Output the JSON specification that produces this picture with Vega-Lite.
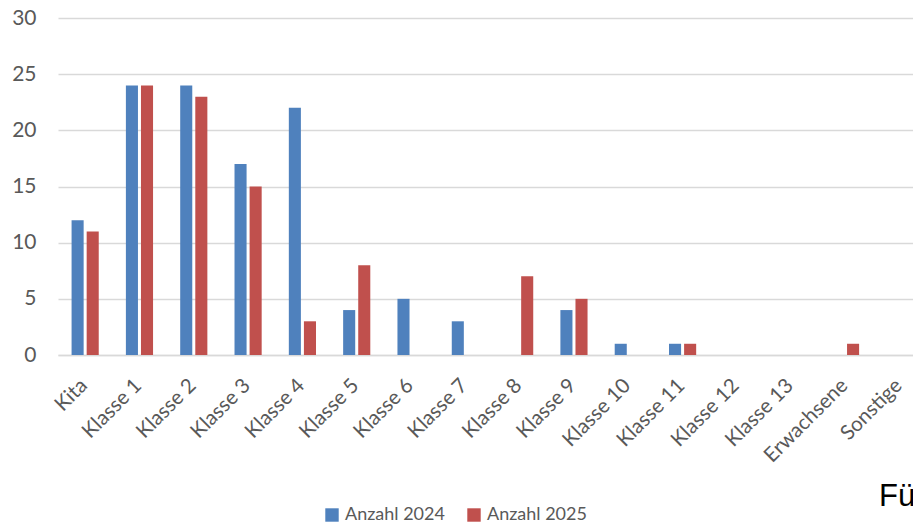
{
  "$schema": "https://vega.github.io/schema/vega-lite/v6.json",
  "width": 869,
  "height": 337,
  "autosize": {"type": "none"},
  "padding": {"left": 58, "top": 18, "right": 0, "bottom": 170},
  "background": "white",
  "title": {
    "text": "Fü",
    "orient": "bottom",
    "anchor": "start",
    "frame": "group",
    "dx": 821,
    "dy": -56,
    "offset": 14,
    "fontSize": 31,
    "font": "Liberation Sans",
    "fontWeight": "normal",
    "color": "#000000",
    "baseline": "top"
  },
  "config": {
    "view": {"stroke": null},
    "font": "Lato",
    "axis": {"labelFont": "Lato", "labelColor": "#595959"},
    "legend": {"labelFont": "Lato"}
  },
  "data": {
    "values": [
      {"Kategorie": "Kita", "Serie": "Anzahl 2024", "Wert": 12},
      {"Kategorie": "Kita", "Serie": "Anzahl 2025", "Wert": 11},
      {"Kategorie": "Klasse 1", "Serie": "Anzahl 2024", "Wert": 24},
      {"Kategorie": "Klasse 1", "Serie": "Anzahl 2025", "Wert": 24},
      {"Kategorie": "Klasse 2", "Serie": "Anzahl 2024", "Wert": 24},
      {"Kategorie": "Klasse 2", "Serie": "Anzahl 2025", "Wert": 23},
      {"Kategorie": "Klasse 3", "Serie": "Anzahl 2024", "Wert": 17},
      {"Kategorie": "Klasse 3", "Serie": "Anzahl 2025", "Wert": 15},
      {"Kategorie": "Klasse 4", "Serie": "Anzahl 2024", "Wert": 22},
      {"Kategorie": "Klasse 4", "Serie": "Anzahl 2025", "Wert": 3},
      {"Kategorie": "Klasse 5", "Serie": "Anzahl 2024", "Wert": 4},
      {"Kategorie": "Klasse 5", "Serie": "Anzahl 2025", "Wert": 8},
      {"Kategorie": "Klasse 6", "Serie": "Anzahl 2024", "Wert": 5},
      {"Kategorie": "Klasse 6", "Serie": "Anzahl 2025", "Wert": 0},
      {"Kategorie": "Klasse 7", "Serie": "Anzahl 2024", "Wert": 3},
      {"Kategorie": "Klasse 7", "Serie": "Anzahl 2025", "Wert": 0},
      {"Kategorie": "Klasse 8", "Serie": "Anzahl 2024", "Wert": 0},
      {"Kategorie": "Klasse 8", "Serie": "Anzahl 2025", "Wert": 7},
      {"Kategorie": "Klasse 9", "Serie": "Anzahl 2024", "Wert": 4},
      {"Kategorie": "Klasse 9", "Serie": "Anzahl 2025", "Wert": 5},
      {"Kategorie": "Klasse 10", "Serie": "Anzahl 2024", "Wert": 1},
      {"Kategorie": "Klasse 10", "Serie": "Anzahl 2025", "Wert": 0},
      {"Kategorie": "Klasse 11", "Serie": "Anzahl 2024", "Wert": 1},
      {"Kategorie": "Klasse 11", "Serie": "Anzahl 2025", "Wert": 1},
      {"Kategorie": "Klasse 12", "Serie": "Anzahl 2024", "Wert": 0},
      {"Kategorie": "Klasse 12", "Serie": "Anzahl 2025", "Wert": 0},
      {"Kategorie": "Klasse 13", "Serie": "Anzahl 2024", "Wert": 0},
      {"Kategorie": "Klasse 13", "Serie": "Anzahl 2025", "Wert": 0},
      {"Kategorie": "Erwachsene", "Serie": "Anzahl 2024", "Wert": 0},
      {"Kategorie": "Erwachsene", "Serie": "Anzahl 2025", "Wert": 1},
      {"Kategorie": "Sonstige", "Serie": "Anzahl 2024", "Wert": 0},
      {"Kategorie": "Sonstige", "Serie": "Anzahl 2025", "Wert": 0}
    ]
  },
  "mark": {"type": "bar"},
  "encoding": {
    "x": {
      "field": "Kategorie",
      "type": "nominal",
      "sort": null,
      "scale": {"paddingInner": 0.5, "paddingOuter": 0.25},
      "axis": {
        "title": null,
        "labelAngle": -45,
        "labelFontSize": 20.5,
        "labelColor": "#595959",
        "labelPadding": 20,
        "labelOffset": -8,
        "ticks": false,
        "domainColor": "#d9d9d9",
        "domainWidth": 1.5
      }
    },
    "xOffset": {
      "field": "Serie",
      "type": "nominal",
      "scale": {"paddingInner": 0.2}
    },
    "y": {
      "field": "Wert",
      "type": "quantitative",
      "scale": {"domain": [0, 30]},
      "axis": {
        "title": null,
        "values": [0, 5, 10, 15, 20, 25, 30],
        "labelFontSize": 21,
        "labelColor": "#595959",
        "labelPadding": 22,
        "ticks": false,
        "domain": false,
        "gridColor": "#d9d9d9",
        "gridWidth": 1.5
      }
    },
    "color": {
      "field": "Serie",
      "type": "nominal",
      "scale": {"domain": ["Anzahl 2024", "Anzahl 2025"], "range": ["#4F81BD", "#C0504D"]},
      "legend": {
        "title": null,
        "orient": "none",
        "direction": "horizontal",
        "legendX": 265,
        "legendY": 488,
        "symbolType": "square",
        "symbolSize": 180,
        "symbolStrokeWidth": 0,
        "labelFontSize": 18,
        "labelColor": "#595959",
        "labelOffset": 4,
        "columnPadding": 20
      }
    }
  }
}
